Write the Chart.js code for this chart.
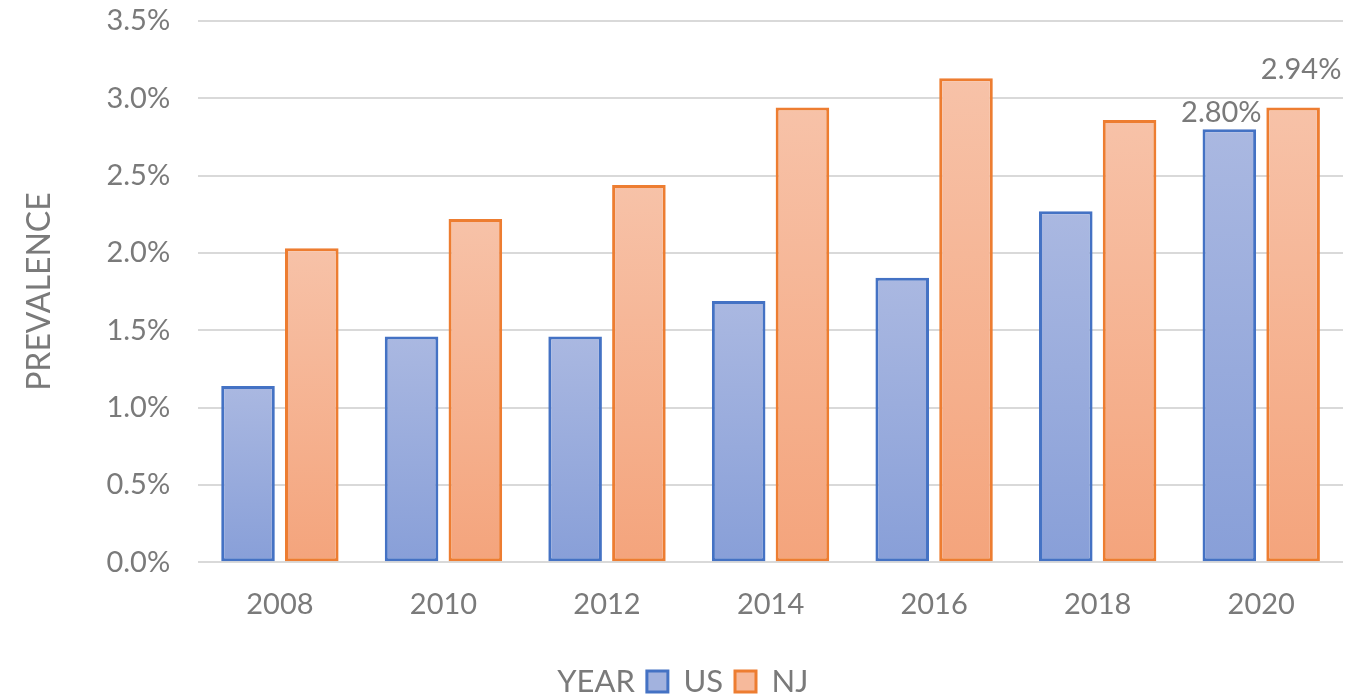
<!DOCTYPE html>
<html>
<head>
<meta charset="utf-8">
<script src="https://cdn.jsdelivr.net/npm/chart.js@4/dist/chart.umd.min.js"></script>
<style>
html,body{margin:0;padding:0;background:#fff;}
#wrap{width:1348px;height:697px;position:relative;}
</style>
</head>
<body>
<div id="wrap"><canvas id="c"></canvas></div>
<script>
const years = ['2008','2010','2012','2014','2016','2018','2020'];
const usValues = [1.14, 1.46, 1.46, 1.69, 1.84, 2.27, 2.80];
const njValues = [2.03, 2.22, 2.44, 2.94, 3.13, 2.86, 2.94];
const yTicks = [0, 0.5, 1.0, 1.5, 2.0, 2.5, 3.0, 3.5];
const xTitle = 'YEAR';
const yTitle = 'PREVALENCE';

const FONT = 'Lato, "Open Sans", sans-serif';
const TXT = '#7a7a7a';

function barGradient(top, bottom){
  return function(ctx){
    const chart = ctx.chart;
    if (!chart.chartArea || ctx.raw === undefined) return top;
    const ys = chart.scales.y;
    const y0 = ys.getPixelForValue(ctx.raw);
    const y1 = ys.getPixelForValue(0);
    if (!isFinite(y0) || !isFinite(y1) || y0 === y1) return top;
    const g = chart.ctx.createLinearGradient(0, y0, 0, y1);
    g.addColorStop(0, top);
    g.addColorStop(1, bottom);
    return g;
  };
}

const labelPlugin = {
  id: 'lastLabels',
  afterDatasetsDraw(chart){
    const ctx = chart.ctx;
    ctx.save();
    ctx.font = '29px ' + FONT;
    ctx.fillStyle = TXT;
    ctx.textAlign = 'center';
    ctx.textBaseline = 'middle';
    const offs = [[-8,-17],[8,-38]];
    chart.data.datasets.forEach((ds, di) => {
      const meta = chart.getDatasetMeta(di);
      const i = ds.data.length - 1;
      const el = meta.data[i];
      ctx.fillText(ds.data[i].toFixed(2) + '%', el.x + offs[di][0], el.y + offs[di][1]);
    });
    ctx.restore();
  }
};

const legendShift = {
  id: 'legendShift',
  afterLayout(chart){
    const lg = chart.legend;
    if (lg && lg.lineWidths && lg.lineWidths.length) lg.lineWidths[0] += 30;
  }
};

new Chart(document.getElementById('c'), {
  type: 'bar',
  data: {
    labels: years,
    datasets: [
      {label:'US', data: usValues, backgroundColor: barGradient('#aab8e1','#889fd8'), borderColor:'#4472c4', borderWidth:3, borderSkipped:false, categoryPercentage:0.78, barPercentage:0.84},
      {label:'NJ', data: njValues, backgroundColor: barGradient('#f7c2a8','#f4a47c'), borderColor:'#ed7d31', borderWidth:3, borderSkipped:false, categoryPercentage:0.78, barPercentage:0.84}
    ]
  },
  options: {
    responsive: true,
    maintainAspectRatio: false,
    animation: false,
    layout: { padding: { top: 0, left: 16, right: 5, bottom: -10 } },
    plugins: {
      title: { display: false },
      tooltip: { enabled: false },
      legend: {
        position: 'bottom',
        labels: {
          font: { family: FONT, size: 31 },
          color: TXT,
          boxWidth: 21,
          boxHeight: 21,
          padding: 12,
          generateLabels(chart){
            const items = Chart.defaults.plugins.legend.labels.generateLabels(chart);
            items.forEach(it => { it.fillStyle = it.datasetIndex === 0 ? '#a2b2de' : '#f6b99b'; it.lineWidth = 3; });
            items.unshift({text: xTitle, fillStyle:'rgba(0,0,0,0)', strokeStyle:'rgba(0,0,0,0)', lineWidth:0, hidden:false, fontColor: TXT});
            return items;
          }
        },
        onClick(){}
      }
    },
    scales: {
      x: {
        grid: { display: false },
        border: { display: false },
        ticks: { font: { family: FONT, size: 29 }, color: TXT, padding: 17 },
        afterFit(scale){ scale.height += 15; }
      },
      y: {
        min: 0, max: 3.5,
        afterBuildTicks(axis){ axis.ticks = yTicks.map(v => ({value: v})); },
        afterFit(scale){ scale.paddingTop = 21; },
        grid: { color: '#d9d9d9', lineWidth: 2, drawTicks: false },
        border: { display: false },
        ticks: { font: { family: FONT, size: 29 }, color: TXT, padding: 28, callback: v => Number(v).toFixed(1) + '%' },
        title: { display: true, text: yTitle, font: { family: FONT, size: 32 }, color: TXT, padding: { bottom: 20 } }
      }
    }
  },
  plugins: [labelPlugin, legendShift]
});
</script>
</body>
</html>
